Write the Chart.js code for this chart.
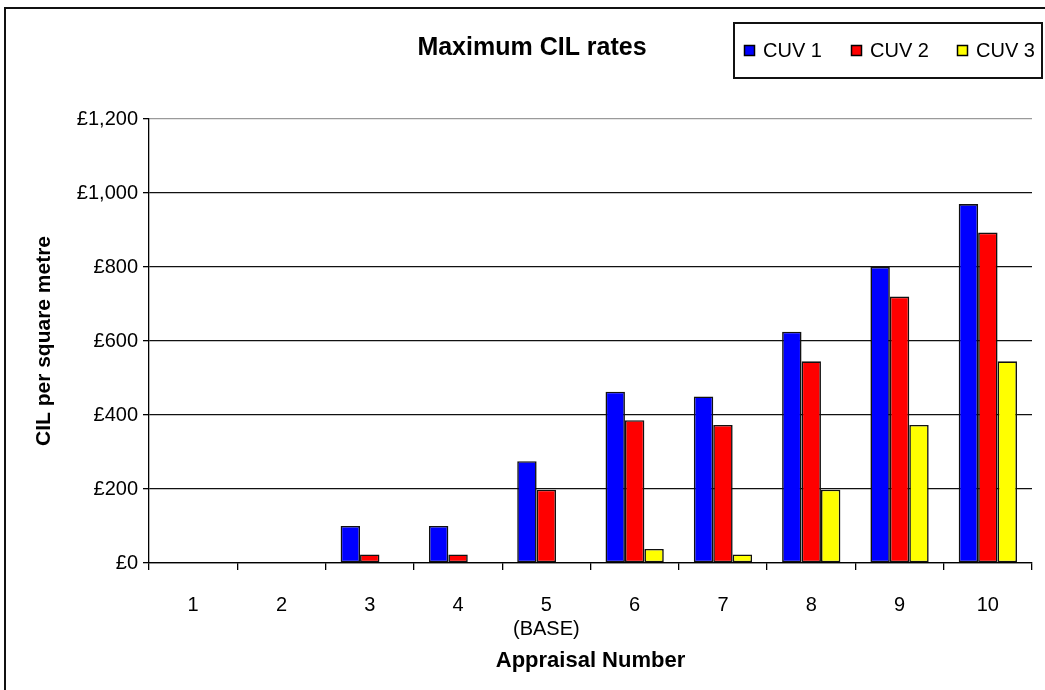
<!DOCTYPE html>
<html>
<head>
<meta charset="utf-8">
<script src="https://cdn.jsdelivr.net/npm/chart.js@4/dist/chart.umd.min.js"></script>
<style>
    body {
        margin: 0;
        background: #ffffff;
    }
    #wrap {
        position: relative;
        width: 1045px;
        height: 690px;
        overflow: hidden;
    }
    #frame {
        position: absolute;
        left: 4px;
        top: 7px;
        width: 1100px;
        height: 760px;
        border: 2px solid #111111;
        box-sizing: border-box;
    }
    #chart {
        position: absolute;
        left: 0;
        top: 0;
    }
</style>
</head>
<body>
<div id="wrap">
    <div id="frame"></div>
    <canvas id="chart" width="1045" height="690"></canvas>
</div>
<script>

const appraisalLabels = ["1", "2", "3", "4", ["5", "(BASE)"], "6", "7", "8", "9", "10"];

const cuv1Values = [0, 0, 100, 100, 275, 463, 450, 625, 800, 970];
const cuv2Values = [0, 0, 23, 23, 198, 386, 373, 545, 720, 893];
const cuv3Values = [0, 0, 0, 0, 0, 38, 23, 198, 373, 545];

const seriesNames = ["CUV 1", "CUV 2", "CUV 3"];
const seriesColors = ["#0000ff", "#ff0000", "#ffff00"];

const chartTitle = "Maximum CIL rates";
const yTitle = "CIL per square metre";
const xTitle = "Appraisal Number";

const FONT = "'Liberation Sans', Arial, sans-serif";

// title + boxed legend drawn on top, like the spreadsheet original
const headerPlugin = {
    id: "header",
    afterDraw(chart) {
        const ctx = chart.ctx;
        ctx.save();

        ctx.fillStyle = "#000";
        ctx.font = "bold 25px " + FONT;
        ctx.textAlign = "center";
        ctx.textBaseline = "middle";
        ctx.fillText(chartTitle, 532, 48);

        // legend box
        ctx.strokeStyle = "#111";
        ctx.lineWidth = 2;
        ctx.strokeRect(734, 23, 308, 55);

        ctx.font = "20px " + FONT;
        ctx.textAlign = "left";
        const starts = [744, 851, 957];
        chart.data.datasets.forEach((ds, i) => {
            const x = starts[i];
            ctx.fillStyle = ds.backgroundColor;
            ctx.fillRect(x, 45, 11, 11);
            ctx.strokeStyle = "#000";
            ctx.lineWidth = 1.5;
            ctx.strokeRect(x + 0.5, 45.5, 10, 10);
            ctx.fillStyle = "#000";
            ctx.fillText(ds.label, x + 19, 51);
        });

        ctx.restore();
    }
};

function buildDatasets() {
    const values = [cuv1Values, cuv2Values, cuv3Values];
    return values.map((data, i) => ({
        label: seriesNames[i],
        data: data,
        backgroundColor: seriesColors[i],
        borderColor: "#111",
        borderWidth: 1.6,
        borderSkipped: false,
        categoryPercentage: 0.66,
        barPercentage: 1.0,
    }));
}

function formatPounds(value) {
    return "£" + Number(value).toLocaleString("en-GB");
}

new Chart(document.getElementById("chart"), {
    type: "bar",
    data: {
        labels: appraisalLabels,
        datasets: buildDatasets(),
    },
    plugins: [headerPlugin],
    options: {
        responsive: false,
        animation: false,
        layout: {
            padding: { top: 119, right: 13, left: 0, bottom: 0 },
        },
        plugins: {
            legend: { display: false },
            title: { display: false },
            tooltip: { enabled: false },
        },
        scales: {
            x: {
                afterFit(scale) {
                    scale.height = 127;
                },
                grid: {
                    drawOnChartArea: true,
                    color: (c) => (c.index === appraisalLabels.length ? "#9a9a9a" : "rgba(0,0,0,0)"),
                    tickColor: "#000",
                    tickLength: 7,
                    lineWidth: 1.3,
                },
                border: { color: "#000", width: 1.3 },
                ticks: {
                    color: "#000",
                    font: { family: FONT, size: 20 },
                    padding: 23,
                    maxRotation: 0,
                    autoSkip: false,
                },
                title: {
                    display: true,
                    text: xTitle,
                    color: "#000",
                    font: { family: FONT, size: 22, weight: "bold" },
                    padding: { top: 0, bottom: 16 },
                },
            },
            y: {
                min: 0,
                max: 1200,
                afterFit(scale) {
                    scale.width = 149;
                },
                grid: {
                    color: (c) => (c.tick && c.tick.value === 1200 ? "#9a9a9a" : "#111"),
                    tickColor: "#000",
                    tickLength: 6,
                    lineWidth: 1.3,
                },
                border: { color: "#000", width: 1.3 },
                ticks: {
                    stepSize: 200,
                    color: "#000",
                    font: { family: FONT, size: 20 },
                    padding: 5,
                    callback: (v) => formatPounds(v),
                },
                title: {
                    display: true,
                    text: yTitle,
                    color: "#000",
                    font: { family: FONT, size: 21, weight: "bold" },
                    padding: { top: 32, bottom: 0 },
                },
            },
        },
    },
});
</script>
</body>
</html>
